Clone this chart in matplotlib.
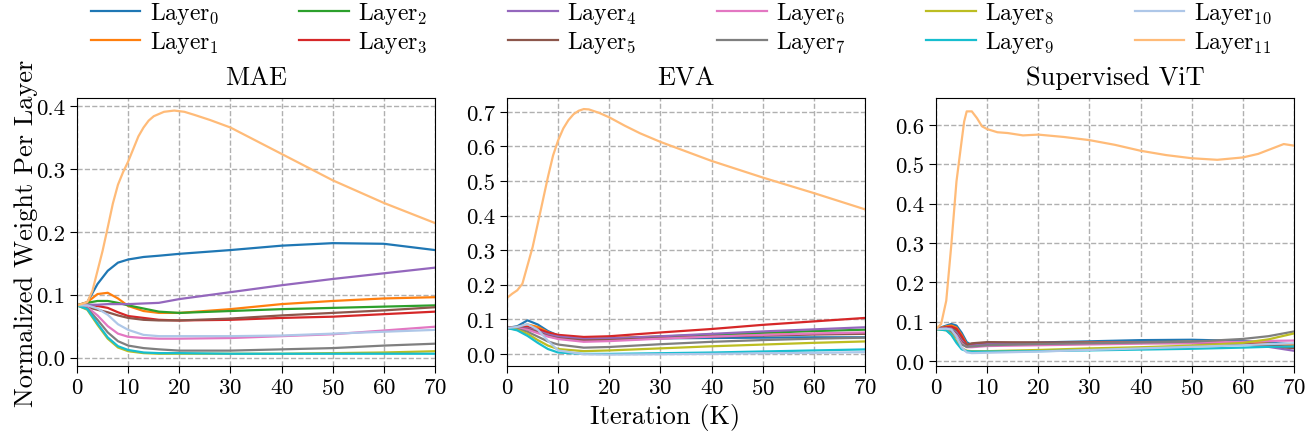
import matplotlib
matplotlib.use('Agg')
import matplotlib.pyplot as plt

plt.rcParams['font.family'] = 'cmr10'
plt.rcParams['mathtext.fontset'] = 'cm'
plt.rcParams['axes.formatter.use_mathtext'] = True
plt.rcParams['axes.unicode_minus'] = False

# colors per layer (tab10 + two light ones)
colors = ['#1f77b4', '#ff7f0e', '#2ca02c', '#d62728', '#9467bd', '#8c564b',
          '#e377c2', '#7f7f7f', '#bcbd22', '#17becf', '#aec7e8', '#ffbb78']
layer_labels = [r'Layer$_{%d}$' % i for i in range(12)]
titles = ['MAE', 'EVA', 'Supervised ViT']

# ---------------- MAE ----------------
mae_x = [0, 2, 4, 6, 8, 10, 13, 16, 20, 30, 40, 50, 60, 70]
mae_layers = [
    [0.083, 0.088, 0.117, 0.138, 0.151, 0.156, 0.160, 0.162, 0.165, 0.171, 0.178, 0.182, 0.181, 0.171],
    [0.083, 0.088, 0.101, 0.103, 0.094, 0.082, 0.074, 0.071, 0.071, 0.077, 0.085, 0.090, 0.094, 0.096],
    [0.083, 0.087, 0.090, 0.090, 0.087, 0.083, 0.078, 0.073, 0.071, 0.074, 0.077, 0.079, 0.081, 0.083],
    [0.083, 0.084, 0.082, 0.079, 0.072, 0.066, 0.063, 0.060, 0.059, 0.060, 0.063, 0.065, 0.069, 0.073],
    [0.083, 0.084, 0.084, 0.085, 0.085, 0.085, 0.086, 0.087, 0.093, 0.104, 0.115, 0.125, 0.134, 0.143],
    [0.083, 0.080, 0.076, 0.072, 0.067, 0.063, 0.060, 0.059, 0.059, 0.062, 0.067, 0.071, 0.075, 0.080],
    [0.083, 0.080, 0.067, 0.050, 0.038, 0.033, 0.031, 0.030, 0.030, 0.031, 0.034, 0.037, 0.043, 0.049],
    [0.083, 0.078, 0.060, 0.040, 0.026, 0.019, 0.015, 0.013, 0.011, 0.011, 0.013, 0.015, 0.019, 0.022],
    [0.083, 0.076, 0.052, 0.030, 0.016, 0.010, 0.007, 0.006, 0.006, 0.006, 0.006, 0.007, 0.008, 0.010],
    [0.083, 0.077, 0.054, 0.032, 0.018, 0.012, 0.008, 0.007, 0.007, 0.006, 0.006, 0.006, 0.006, 0.006],
    [0.083, 0.083, 0.078, 0.068, 0.053, 0.044, 0.036, 0.034, 0.034, 0.034, 0.035, 0.038, 0.041, 0.044],
]
mae_top_x = [0, 2, 3, 4, 5, 6, 7, 8, 9, 10, 11, 12, 13, 14, 15, 17, 19, 21, 23, 26, 30, 35, 40,
             50, 60, 70]
mae_top = [0.083, 0.088, 0.106, 0.138, 0.170, 0.207, 0.245, 0.275, 0.295, 0.312, 0.332, 0.352, 0.366,
           0.377, 0.384, 0.391, 0.393, 0.391, 0.386, 0.378, 0.366, 0.345, 0.324, 0.282, 0.246, 0.214]

# ---------------- EVA ----------------
eva_x = [0, 2, 4, 6, 8, 10, 15, 20, 30, 40, 50, 60, 70]
eva_layers = [
    [0.075, 0.080, 0.097, 0.085, 0.066, 0.053, 0.045, 0.044, 0.045, 0.046, 0.047, 0.048, 0.048],
    [0.075, 0.078, 0.085, 0.078, 0.063, 0.052, 0.046, 0.047, 0.050, 0.053, 0.056, 0.058, 0.060],
    [0.075, 0.076, 0.076, 0.068, 0.057, 0.048, 0.042, 0.044, 0.050, 0.056, 0.061, 0.066, 0.070],
    [0.075, 0.077, 0.078, 0.072, 0.062, 0.055, 0.049, 0.051, 0.062, 0.072, 0.084, 0.094, 0.104],
    [0.075, 0.075, 0.074, 0.066, 0.056, 0.050, 0.043, 0.045, 0.051, 0.058, 0.065, 0.071, 0.077],
    [0.075, 0.075, 0.072, 0.063, 0.052, 0.045, 0.039, 0.040, 0.045, 0.050, 0.053, 0.056, 0.058],
    [0.075, 0.074, 0.070, 0.060, 0.050, 0.043, 0.035, 0.037, 0.044, 0.050, 0.055, 0.059, 0.062],
    [0.075, 0.072, 0.064, 0.050, 0.036, 0.027, 0.018, 0.020, 0.028, 0.035, 0.040, 0.044, 0.047],
    [0.075, 0.070, 0.058, 0.040, 0.024, 0.014, 0.008, 0.010, 0.016, 0.022, 0.027, 0.032, 0.036],
    [0.075, 0.068, 0.052, 0.032, 0.014, 0.004, 0.000, 0.000, 0.002, 0.004, 0.007, 0.010, 0.013],
    [0.075, 0.078, 0.086, 0.070, 0.038, 0.010, -0.001, -0.002, -0.001, 0.000, 0.002, 0.003, 0.005],
]
eva_top_x = [0, 1, 2, 3, 4, 5, 6, 7, 8, 9, 10, 11, 12, 13, 14, 15, 16, 18, 20, 23, 26, 30, 40,
             50, 60, 70]
eva_top = [0.162, 0.174, 0.184, 0.203, 0.256, 0.309, 0.376, 0.444, 0.512, 0.574, 0.618, 0.652, 0.676,
           0.693, 0.703, 0.708, 0.707, 0.697, 0.684, 0.660, 0.638, 0.613, 0.558, 0.510, 0.465, 0.418]

# ---------------- Supervised ViT ----------------
vit_x = [0, 2, 3, 4, 5, 6, 7, 10, 20, 30, 40, 50, 60, 65, 70]
vit_layers = [
    [0.081, 0.090, 0.094, 0.090, 0.072, 0.048, 0.040, 0.044, 0.047, 0.050, 0.053, 0.054, 0.051, 0.047, 0.042],
    [0.081, 0.088, 0.090, 0.085, 0.066, 0.043, 0.038, 0.043, 0.045, 0.047, 0.048, 0.049, 0.047, 0.044, 0.040],
    [0.081, 0.085, 0.085, 0.078, 0.058, 0.040, 0.039, 0.043, 0.044, 0.045, 0.046, 0.047, 0.044, 0.039, 0.033],
    [0.081, 0.086, 0.087, 0.082, 0.063, 0.041, 0.042, 0.046, 0.046, 0.046, 0.046, 0.047, 0.044, 0.040, 0.035],
    [0.081, 0.084, 0.082, 0.072, 0.052, 0.039, 0.039, 0.043, 0.045, 0.046, 0.047, 0.047, 0.043, 0.036, 0.026],
    [0.081, 0.083, 0.080, 0.068, 0.048, 0.041, 0.045, 0.048, 0.047, 0.046, 0.046, 0.045, 0.042, 0.038, 0.033],
    [0.081, 0.082, 0.078, 0.065, 0.045, 0.035, 0.035, 0.038, 0.040, 0.042, 0.044, 0.046, 0.049, 0.051, 0.052],
    [0.081, 0.080, 0.074, 0.060, 0.042, 0.036, 0.037, 0.040, 0.043, 0.045, 0.047, 0.049, 0.056, 0.063, 0.075],
    [0.081, 0.078, 0.068, 0.050, 0.033, 0.026, 0.025, 0.025, 0.028, 0.032, 0.035, 0.039, 0.046, 0.055, 0.070],
    [0.081, 0.078, 0.066, 0.046, 0.030, 0.025, 0.024, 0.024, 0.025, 0.027, 0.029, 0.031, 0.034, 0.036, 0.037],
    [0.081, 0.082, 0.080, 0.062, 0.035, 0.022, 0.020, 0.021, 0.024, 0.028, 0.032, 0.036, 0.040, 0.043, 0.045],
]
vit_top_x = [0, 1, 2, 3, 4, 5, 5.5, 6, 7, 8, 9, 10, 12, 14, 17, 20, 25, 30, 35, 40, 45, 50,
             55, 60, 63, 65, 68, 70]
vit_top = [0.081, 0.094, 0.153, 0.296, 0.456, 0.558, 0.608, 0.634, 0.634, 0.617, 0.596, 0.589,
           0.581, 0.579, 0.573, 0.575, 0.569, 0.561, 0.549, 0.534, 0.523, 0.515, 0.511, 0.517,
           0.526, 0.536, 0.551, 0.547]

panels = [
    (mae_x, mae_layers, mae_top_x, mae_top, (-0.0135, 0.413), [0.0, 0.1, 0.2, 0.3, 0.4]),
    (eva_x, eva_layers, eva_top_x, eva_top, (-0.035, 0.74), [0.0, 0.1, 0.2, 0.3, 0.4, 0.5, 0.6, 0.7]),
    (vit_x, vit_layers, vit_top_x, vit_top, (-0.0127, 0.668), [0.0, 0.1, 0.2, 0.3, 0.4, 0.5, 0.6]),
]

fig = plt.figure(figsize=(13.15, 4.39), dpi=100)
lefts = [0.0586, 0.3856, 0.7118]
handles = []
for k, (x, layers, tx, top, ylim, yticks) in enumerate(panels):
    ax = fig.add_axes([lefts[k], 0.164, 0.2722, 0.6105])
    for i, vals in enumerate(layers):
        ln, = ax.plot(x, vals, color=colors[i], lw=1.6)
        if k == 0:
            handles.append(ln)
    ln, = ax.plot(tx, top, color=colors[11], lw=1.6)
    if k == 0:
        handles.append(ln)
    ax.set_xlim(0, 70)
    ax.set_ylim(*ylim)
    ax.set_xticks(range(0, 71, 10))
    ax.set_yticks(yticks)
    ax.set_yticklabels(['%.1f' % t for t in yticks])
    ax.tick_params(labelsize=16.5, length=5)
    ax.grid(True, linestyle='--', color='#b0b0b0', lw=1)
    ax.set_title(titles[k], fontsize=19, pad=10)
    if k == 0:
        ax.set_ylabel('Normalized Weight Per Layer', fontsize=19, labelpad=-1)

fig.text(0.506, 0.048, 'Iteration (K)', fontsize=19, ha='center', va='center')
fig.legend(handles, layer_labels, loc='upper center', ncol=6, bbox_to_anchor=(0.518, 1.045),
           frameon=False, fontsize=17, handlelength=2.1, handletextpad=0.4,
           columnspacing=3.4, labelspacing=0.1)

fig.savefig('out.png', dpi=100)
